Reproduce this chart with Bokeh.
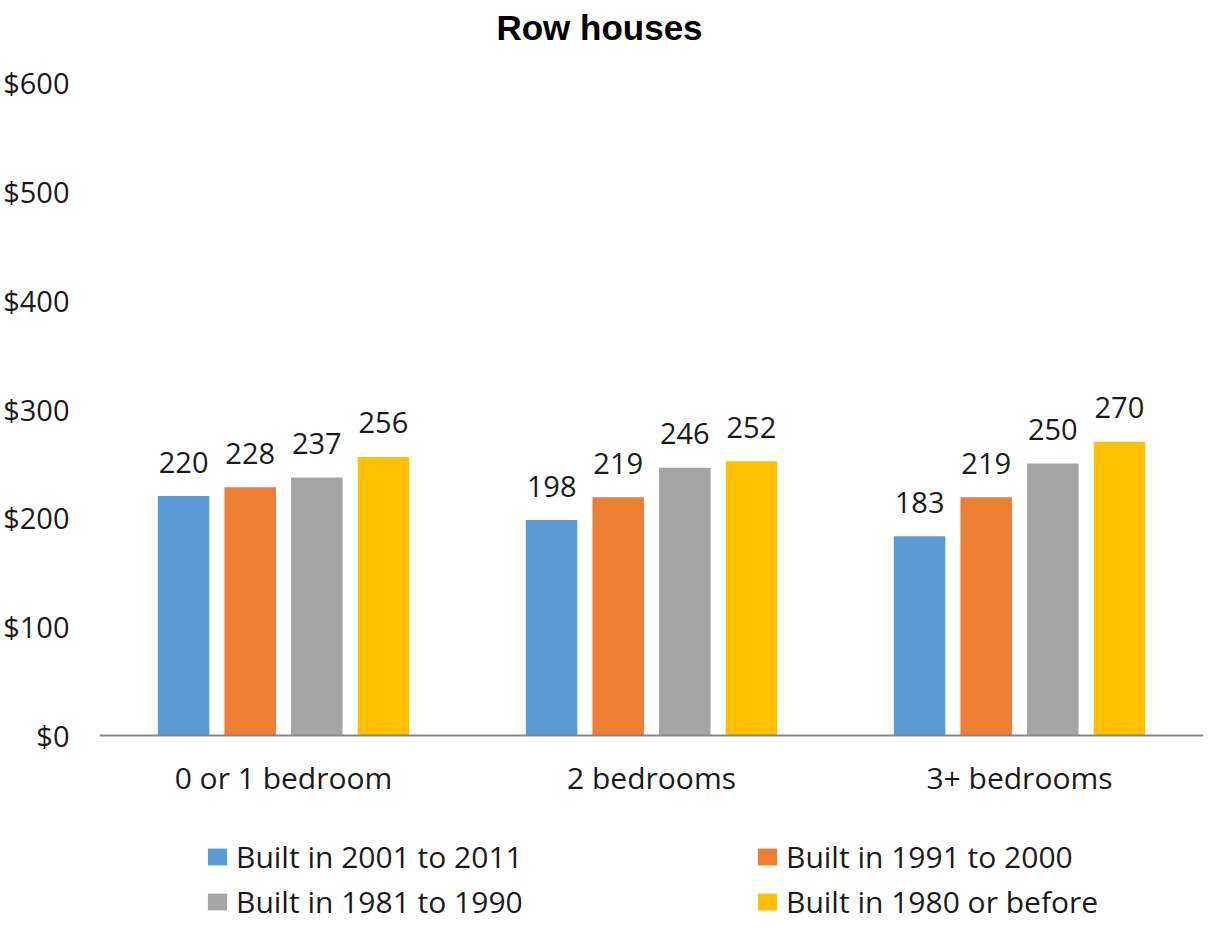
from bokeh.plotting import figure
from bokeh.models import (ColumnDataSource, FactorRange, FixedTicker, Legend,
                          LegendItem, Label, Range1d, Span)
from bokeh.core.properties import value
from bokeh.transform import dodge
from bokeh.embed import file_html
from bokeh.resources import INLINE

# Average monthly cost, row houses, by bedrooms and period of construction
categories = ["0 or 1 bedroom", "2 bedrooms", "3+ bedrooms"]
series_names = ["Built in 2001 to 2011", "Built in 1991 to 2000",
                "Built in 1981 to 1990", "Built in 1980 or before"]
built_2001_2011 = [220, 198, 183]
built_1991_2000 = [228, 219, 219]
built_1981_1990 = [237, 246, 250]
built_1980_before = [256, 252, 270]
series_values = [built_2001_2011, built_1991_2000, built_1981_1990, built_1980_before]
series_colors = ["#5B9BD5", "#ED7D31", "#A5A5A5", "#FFC000"]

y_ticks = [0, 100, 200, 300, 400, 500, 600]
y_tick_labels = ["$0", "$100", "$200", "$300", "$400", "$500", "$600"]

FONT = "Open Sans"
TEXT_COLOR = "#1a1a1a"
FS = "29px"
FS_LABEL = "30px"

W, H = 1213, 932
# vertical layout of the value axis on the canvas
zero_px, top_px = 735, 82          # canvas rows of $0 and $600
px_per_unit = (zero_px - top_px) / 600
y_end = zero_px / px_per_unit
y_start = -(H - zero_px) / px_per_unit

p = figure(width=W, height=H, x_range=FactorRange(*categories, range_padding=0),
           y_range=Range1d(y_start, y_end), output_backend="svg",
           toolbar_location=None, title=None,
           min_border_left=97, min_border_right=10,
           min_border_top=0, min_border_bottom=0)
p.outline_line_color = None
p.background_fill_color = "white"
p.border_fill_color = "white"
p.xgrid.grid_line_color = None
p.ygrid.grid_line_color = None
p.xaxis.visible = False

offsets = [-0.2715, -0.0905, 0.0905, 0.2715]
bar_width = 0.14

data = {"category": categories}
for i, vals in enumerate(series_values):
    data[f"s{i}"] = vals
    data[f"t{i}"] = [str(v) for v in vals]
data["zero"] = [0] * len(categories)
source = ColumnDataSource(data)

items = []
for i, (name, color, off) in enumerate(zip(series_names, series_colors, offsets)):
    xpos = dodge("category", off, range=p.x_range)
    r = p.vbar(x=xpos, top=f"s{i}", width=bar_width, source=source,
               fill_color=color, line_color=None)
    p.text(x=xpos, y=f"s{i}", text=f"t{i}", source=source,
           text_align="center", text_baseline="alphabetic", y_offset=-34,
           text_font=value(FONT), text_font_size=FS, text_color=TEXT_COLOR)
    items.append(LegendItem(label=name, renderers=[r]))

# category axis: baseline and labels
p.add_layout(Span(location=0, dimension="width", line_color="#868686", line_width=2))
p.text(x="category", y="zero", text="category", source=source,
       text_align="center", text_baseline="alphabetic", y_offset=42,
       text_font=value(FONT), text_font_size=FS_LABEL, text_color=TEXT_COLOR)

# value axis
p.yaxis.ticker = FixedTicker(ticks=y_ticks)
p.yaxis.major_label_overrides = {t: l for t, l in zip(y_ticks, y_tick_labels)}
p.yaxis.axis_line_color = None
p.yaxis.major_tick_line_color = None
p.yaxis.minor_tick_line_color = None
p.yaxis.major_tick_out = 0
p.yaxis.major_tick_in = 0
p.yaxis.major_label_standoff = 30
p.yaxis.major_label_text_font = FONT
p.yaxis.major_label_text_font_size = FS
p.yaxis.major_label_text_color = TEXT_COLOR

# legend under the chart, two items per row
legend = Legend(items=items, orientation="horizontal", ncols=2,
                location=(106, 10), glyph_width=24, glyph_height=21,
                label_standoff=7, label_width=515, label_height=41, spacing=4,
                padding=0, margin=0, border_line_color=None,
                background_fill_alpha=0,
                label_text_font=FONT, label_text_font_size=FS_LABEL,
                label_text_color=TEXT_COLOR)
p.add_layout(legend)

title = Label(x=500, y=H - 27, x_units="screen", y_units="screen", text="Row houses",
              text_align="center", text_baseline="middle",
              text_font="Liberation Sans", text_font_style="bold",
              text_font_size="35px", text_color="black")
p.add_layout(title)

open("out.html", "w").write(file_html(p, INLINE))
